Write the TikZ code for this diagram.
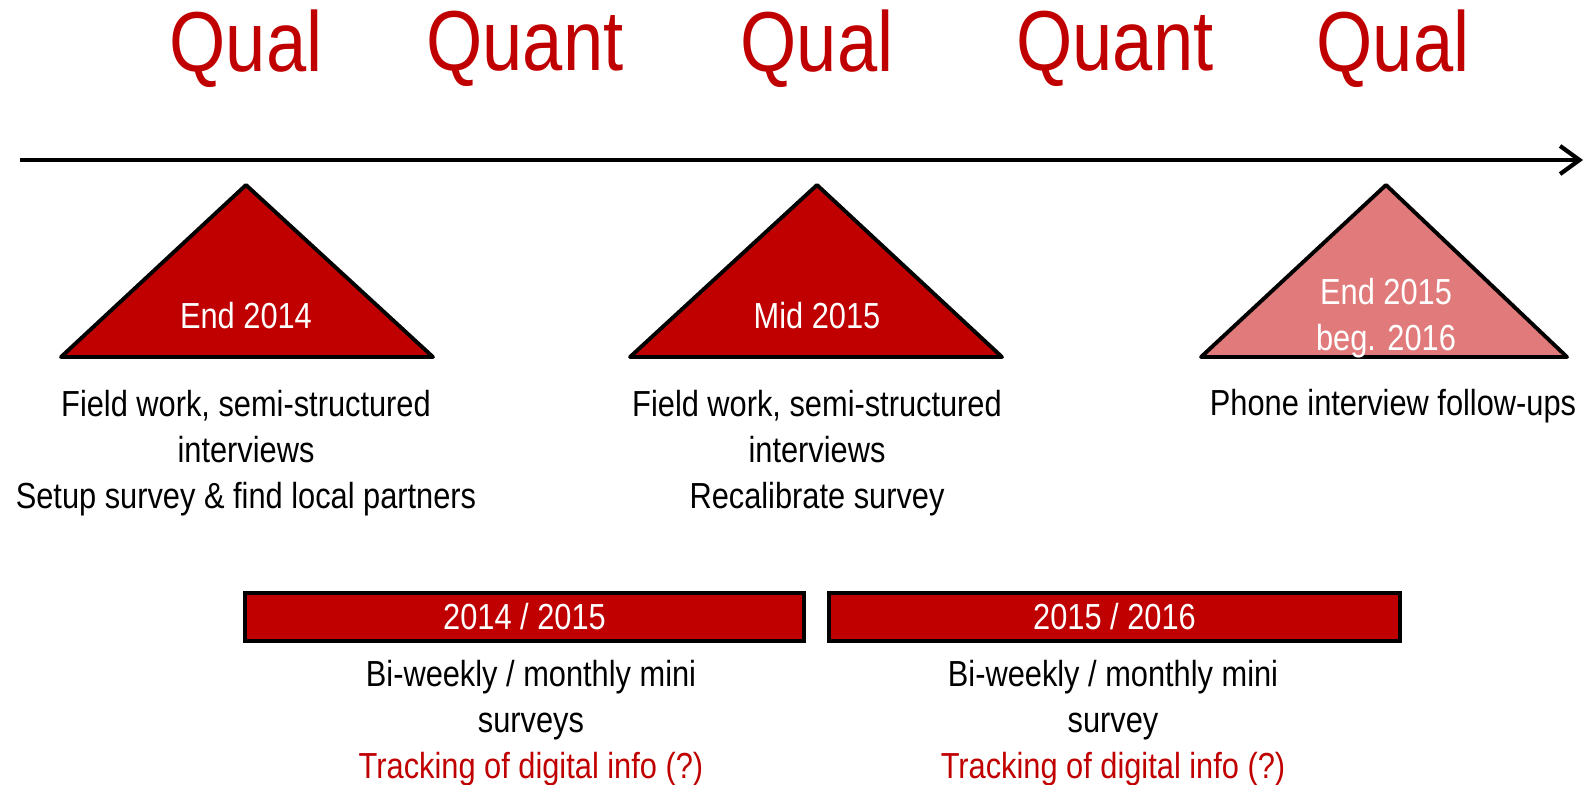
\documentclass[tikz,border=0pt]{standalone}
\usepackage{fontspec}
\setmainfont{Liberation Sans}[FakeStretch=0.85]
\usetikzlibrary{arrows.meta}
\definecolor{darkred}{RGB}{192,0,0}
\definecolor{lightred}{RGB}{225,122,122}

\begin{document}
\begin{tikzpicture}[x=0.01cm, y=-0.01cm,
    phase/.style={text=darkred, inner sep=0pt,
      font=\fontsize{24.2}{29}\selectfont},
    note/.style={inner sep=0pt, align=center,
      font=\fontsize{10.3}{13.1}\selectfont},
    when/.style={note, text=white},
    tri/.style={draw=black, line width=1.1pt, line join=round,
      fill=darkred},
    period/.style={draw=black, line width=1.1pt, fill=darkred,
      text=white, inner sep=0pt, minimum height=0.48cm,
      font=\fontsize{10.3}{12.9}\selectfont}]
    \useasboundingbox (0,0) rectangle (1585,785);
    % phases
    \begin{scope}[every node/.style={phase}]
      \node (qual1) at (246,49) {Qual}; \node (quant1) at (525,49)
      {Quant}; \node (qual2) at (817,49) {Qual}; \node (quant2) at
      (1115,49) {Quant}; \node (qual3) at (1393,49) {Qual};
    \end{scope}
    % time axis
    \coordinate (start) at (20,160); \coordinate (stop) at (1583,160);
    \draw [line width=1.2pt, -{Straight Barb[length=5.5pt, width=8pt]}]
    (start) -- (stop);
    % field phases
    \coordinate (top1) at (246,185); \coordinate (left1) at (61,357);
    \coordinate (right1) at (433,357); \coordinate (top2) at (817,185);
    \coordinate (left2) at (630,357); \coordinate (right2) at (1002,357);
    \coordinate (top3) at (1386,185); \coordinate (left3) at (1201,357);
    \coordinate (right3) at (1567,357);
    \draw [tri] (top1) -- (left1) -- (right1) -- cycle; \draw [tri]
    (top2) -- (left2) -- (right2) -- cycle; \draw [tri, fill=lightred]
    (top3) -- (left3) -- (right3) -- cycle;
    \node [when] (end14) at (246,316) {End 2014}; \node [when] (mid15)
    at (817,316) {Mid 2015}; \node [when] (end15) at (1386,318) {End
      2015\\beg. 2016};
    \node [note] (field1) at (246,453) {Field work, semi-structured\\
      interviews\\Setup survey \& find local partners};
    \node [note] (field2) at (817,453) {Field work, semi-structured\\
      interviews\\Recalibrate survey};
    \node [note] (phone) at (1393,406) {Phone interview follow-ups};
    % survey periods
    \node [period, minimum width=5.59cm] (p1) at (524.5,617) {2014 /
      2015}; \node [period, minimum width=5.71cm] (p2) at (1114.5,617)
    {2015 / 2016};
    \node [note] (mini1) at (531,723) {Bi-weekly / monthly mini\\
      surveys\\\textcolor{darkred}{Tracking of digital info (?)}};
    \node [note] (mini2) at (1113,723) {Bi-weekly / monthly mini\\
      survey\\\textcolor{darkred}{Tracking of digital info (?)}};
  \end{tikzpicture}
\end{document}
